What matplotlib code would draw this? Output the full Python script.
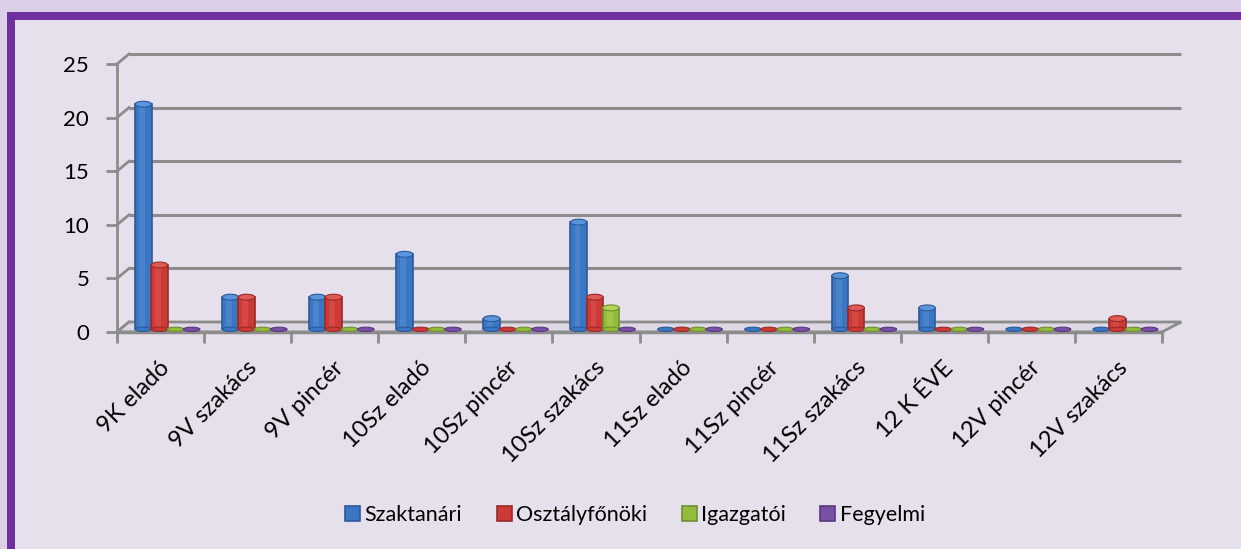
import numpy as np
import matplotlib.pyplot as plt
from matplotlib.patches import Rectangle, Ellipse, Polygon
from matplotlib.transforms import offset_copy, IdentityTransform

plt.rcParams['font.family'] = ['Lato', 'DejaVu Sans']

categories = ['9K eladó', '9V szakács', '9V pincér', '10Sz eladó', '10Sz pincér',
              '10Sz szakács', '11Sz eladó', '11Sz pincér', '11Sz szakács',
              '12 K ÉVE', '12V pincér', '12V szakács']
series_names = ['Szaktanári', 'Osztályfőnöki', 'Igazgatói', 'Fegyelmi']
szaktanari = [21, 3, 3, 7, 1, 10, 0, 0, 5, 2, 0, 0]
osztalyfonoki = [6, 3, 3, 0, 0, 3, 0, 0, 2, 0, 0, 1]
igazgatoi = [0, 0, 0, 0, 0, 2, 0, 0, 0, 0, 0, 0]
fegyelmi = [0, 0, 0, 0, 0, 0, 0, 0, 0, 0, 0, 0]
yticks = [0, 5, 10, 15, 20, 25]

colors = ['#3A76C2', '#CC3A36', '#93BC3C', '#7A4FA6']
edges = ['#2A5A9A', '#9A2A27', '#6E9030', '#5A3880']
lights = ['#5A94DA', '#E05A55', '#B0D55A', '#9A70C4']
bg = '#E6E0EC'
grid_c = '#8C8C8C'

fig = plt.figure(figsize=(12.41, 5.49), dpi=100)
fig.patch.set_facecolor('#DCD0E8')
px = IdentityTransform()

# purple frame, cut off at right and bottom
W, H = 1241, 549
fig.patches.append(Rectangle((7 / W, 0), 1, 1 - 12 / H, transform=fig.transFigure,
                             facecolor='#7030A0', edgecolor='none', zorder=-2))
fig.patches.append(Rectangle((15 / W, 0), 1, 1 - 20 / H, transform=fig.transFigure,
                             facecolor=bg, edgecolor='none', zorder=-1))

ax = fig.add_axes([117 / W, 1 - 332 / H, 1045 / W, 268 / H])
ax.set_facecolor('none')
ax.set_xlim(-0.5, len(categories) - 0.5)
ax.set_ylim(0, 25)

# back wall gridlines, shifted for the 3D look
dx, dy = 12, 10
back = offset_copy(ax.get_yaxis_transform(), fig=fig, x=dx, y=dy, units='dots')
for v in yticks:
    ax.plot([0, 1.007], [v, v], transform=back, color=grid_c, lw=2.2,
            clip_on=False, zorder=1, solid_capstyle='butt')
    p0 = ax.transData.transform((-0.5, v))
    ax.plot([p0[0], p0[0] + dx], [p0[1], p0[1] + dy], transform=px,
            color=grid_c, lw=2, clip_on=False, zorder=1)

# floor slab
x0 = ax.transData.transform((-0.5, 0))
x1 = ax.transData.transform((len(categories) - 0.5, 0))
floor = Polygon([(x0[0], x0[1]), (x1[0], x1[1]), (x1[0] + dx + 7, x1[1] + dy),
                 (x0[0] + dx, x0[1] + dy)], closed=True, transform=px,
                facecolor='#DDD8E3', edgecolor=grid_c, lw=2, zorder=1, clip_on=False)
ax.add_artist(floor)

x = np.arange(len(categories))
width = 0.19
step = 0.185
shift = 0.08
base = 0.25
data = [szaktanari, osztalyfonoki, igazgatoi, fegyelmi]
for i, vals in enumerate(data):
    pos = x + shift + (i - 1.5) * step
    ax.bar(pos, vals, width=width, bottom=base, color=colors[i], edgecolor=edges[i],
           lw=1.2, zorder=3 + i, label=series_names[i])
    # lighter stripe to give the cylinder some shading
    ax.bar(pos - width * 0.08, vals, width=width * 0.35, bottom=base,
           color=lights[i], edgecolor='none', alpha=0.45, zorder=3 + i)
    for p, v in zip(pos, vals):
        ax.add_patch(Ellipse((p, base), width, 0.4, facecolor=colors[i],
                             edgecolor=edges[i], lw=0.8, zorder=3 + i))
        if v > 0:
            ax.add_patch(Ellipse((p, v + base), width, 0.55, facecolor=lights[i],
                                 edgecolor=edges[i], lw=0.8, zorder=3 + i))

for s in ['top', 'right', 'bottom']:
    ax.spines[s].set_visible(False)
ax.spines['left'].set_color(grid_c)
ax.spines['left'].set_linewidth(2)
ax.plot([0, 1], [0, 0], transform=ax.transAxes, color=grid_c, lw=2.5,
        clip_on=False, zorder=2)

ax.set_yticks(yticks)
ax.set_xticks(np.arange(len(categories) + 1) - 0.5, minor=True)
ax.set_xticks(x - 0.02)
ax.set_xticklabels(categories, rotation=45, ha='right', rotation_mode='anchor')
ax.tick_params(axis='y', length=8, width=2, color=grid_c, pad=12, labelsize=16)
ax.tick_params(axis='x', which='major', length=0, pad=18, labelsize=17)
ax.tick_params(axis='x', which='minor', length=8, width=2, color=grid_c)

leg = ax.legend(loc='center', bbox_to_anchor=(635 / W, (549 - 515) / H),
                bbox_transform=fig.transFigure, ncol=4, frameon=False, fontsize=15.5,
                handlelength=0.7, handleheight=0.7, handletextpad=0.2,
                columnspacing=1.6)
for h, c in zip(leg.legend_handles, edges):
    h.set_edgecolor(c)

fig.savefig('out.png', dpi=100, facecolor=fig.get_facecolor())
